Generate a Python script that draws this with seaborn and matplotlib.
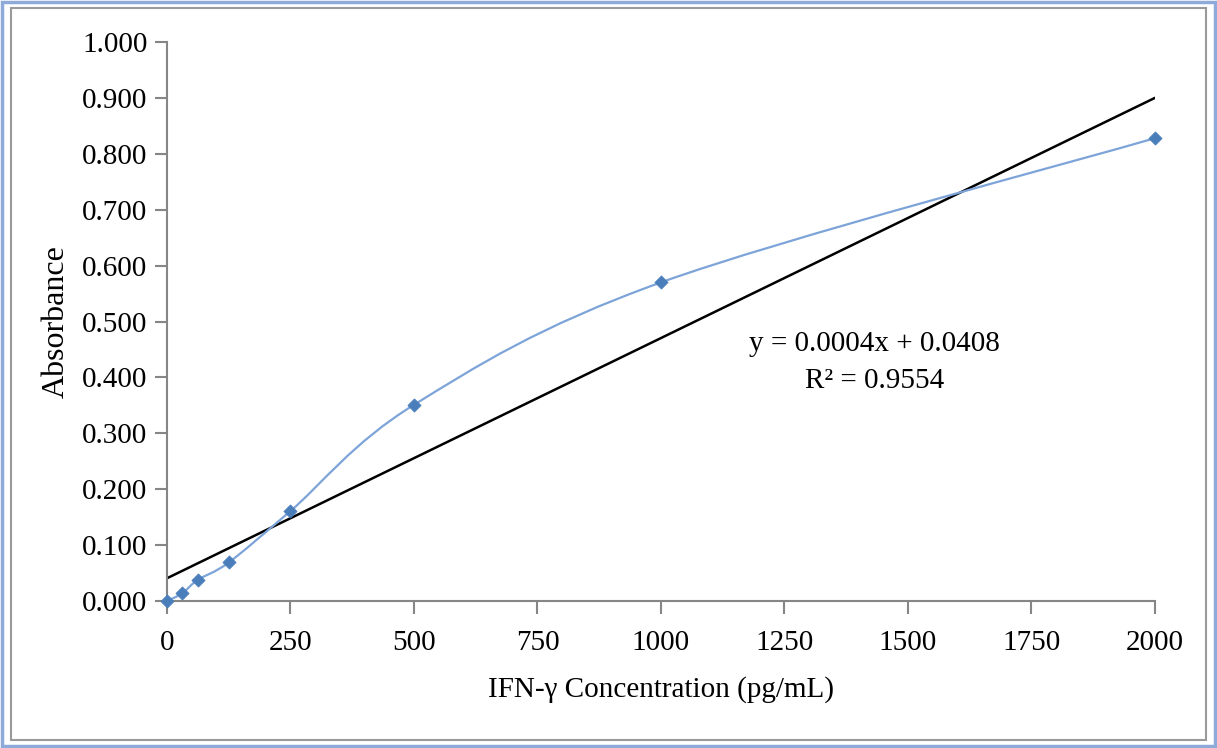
import numpy as np
import seaborn as sns
import matplotlib.pyplot as plt
from matplotlib.path import Path
from matplotlib.patches import PathPatch, Rectangle

# Données
concentration = [0, 31.25, 62.5, 125, 250, 500, 1000, 2000]
absorbance = [0.000, 0.014, 0.038, 0.069, 0.161, 0.351, 0.570, 0.828]
equation = "y = 0.0004x + 0.0408"
r_carre = "R² = 0.9554"
x_ticks = [0, 250, 500, 750, 1000, 1250, 1500, 1750, 2000]
y_ticks = [0.0, 0.1, 0.2, 0.3, 0.4, 0.5, 0.6, 0.7, 0.8, 0.9, 1.0]

sns.set_style("white")
plt.rcParams['font.family'] = ['Liberation Serif', 'DejaVu Serif']
plt.rcParams['text.color'] = 'black'
plt.rcParams['axes.labelcolor'] = 'black'

fig = plt.figure(figsize=(12.17, 7.48), dpi=100)
ax = fig.add_axes([0.1372, 0.1965, 0.8118, 0.7473])

# Courbe lissée (type Excel) : segments de Bézier Catmull-Rom
pts = np.column_stack([concentration, absorbance])
verts = [tuple(pts[0])]
codes = [Path.MOVETO]
n = len(pts)
for i in range(n - 1):
    p0 = pts[max(i - 1, 0)]
    p1 = pts[i]
    p2 = pts[i + 1]
    p3 = pts[min(i + 2, n - 1)]
    c1 = p1 + (p2 - p0) / 6
    c2 = p2 - (p3 - p1) / 6
    verts += [tuple(c1), tuple(c2), tuple(p2)]
    codes += [Path.CURVE4] * 3
ax.add_patch(PathPatch(Path(verts, codes), fill=False, edgecolor='#7DA4D8', lw=1.6, zorder=3))

sns.scatterplot(x=concentration, y=absorbance, marker='D', s=45, color='#4A7EBB',
                edgecolor='#4A7EBB', zorder=4, clip_on=False, ax=ax)

# Droite de tendance linéaire
sns.regplot(x=concentration, y=absorbance, scatter=False, ci=None,
            line_kws={'color': 'black', 'lw': 1.8, 'zorder': 2}, ax=ax)

ax.text(1433, 0.459, equation, ha='center', va='center', fontsize=21)
ax.text(1433, 0.394, r_carre, ha='center', va='center', fontsize=21)

ax.set_xlim(0, 2000)
ax.set_ylim(0, 1.0)
ax.set_xticks(x_ticks)
ax.set_yticks(y_ticks)
ax.set_yticklabels([f"{v:.3f}" for v in y_ticks])
ax.tick_params(axis='both', direction='out', length=9, width=1.5, color='#868686',
               labelsize=21, labelcolor='black', bottom=True, left=True)
ax.tick_params(axis='y', pad=5)
ax.tick_params(axis='x', pad=12)
for side in ['top', 'right']:
    ax.spines[side].set_visible(False)
for side in ['left', 'bottom']:
    ax.spines[side].set_color('#868686')
    ax.spines[side].set_linewidth(1.5)

ax.set_xlabel('IFN-γ Concentration (pg/mL)', fontsize=21, labelpad=14)
ax.set_ylabel('Absorbance', fontsize=23, labelpad=8)

# Cadres extérieurs
fig.patches.append(Rectangle((0.002, 0.003), 0.996, 0.994, transform=fig.transFigure,
                             fill=False, edgecolor='#8EAADB', lw=2.5))
fig.patches.append(Rectangle((0.009, 0.011), 0.982, 0.978, transform=fig.transFigure,
                             fill=False, edgecolor='#9A9A9A', lw=1.5))

plt.savefig('out.png', dpi=100)
